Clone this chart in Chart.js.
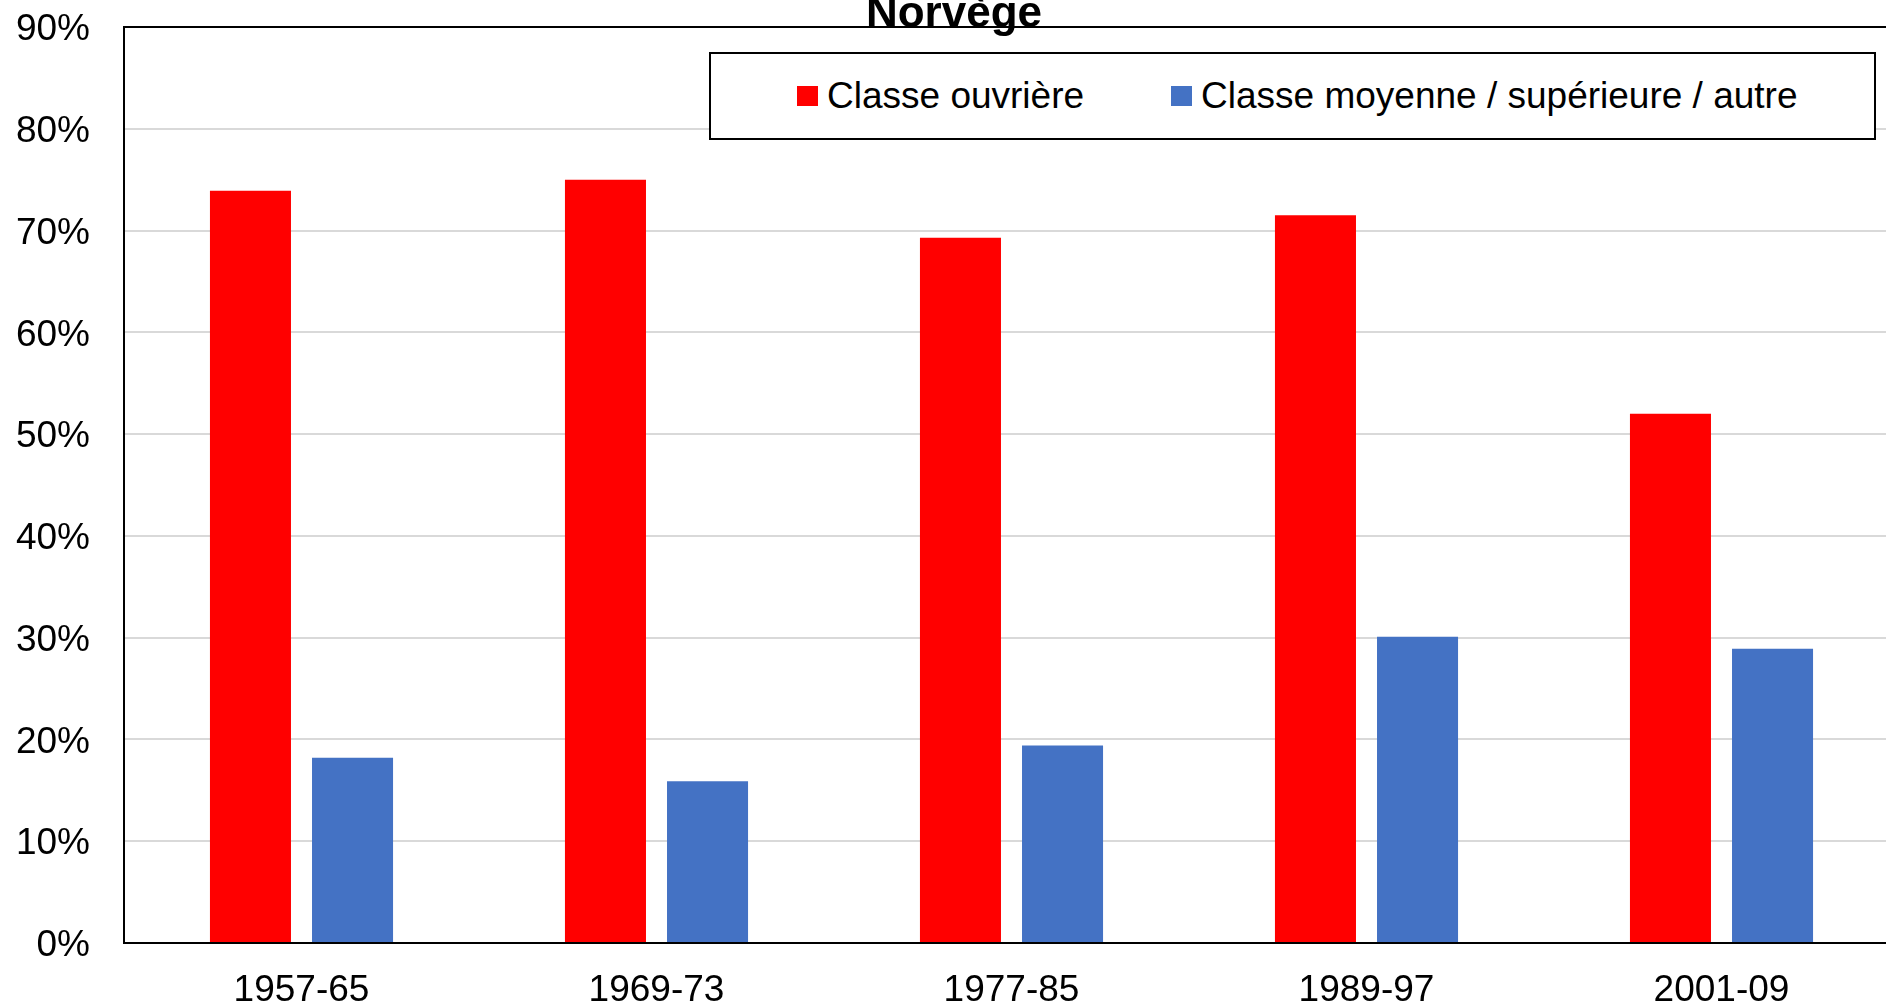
<!DOCTYPE html>
<html>
<head>
<meta charset="utf-8">
<script src="https://cdn.jsdelivr.net/npm/chart.js@4"></script>
<style>
  html, body { margin: 0; padding: 0; background: #fff; overflow: hidden; }
  body { width: 1886px; height: 1003px; position: relative; font-family: "Liberation Sans", Arial, sans-serif; }
  #wrap { position: absolute; left: 0; top: 0; width: 1900px; height: 1003px; }
  #title { position: absolute; left: 954px; top: -10px; transform: translateX(-50%); font-size: 44px; font-weight: bold; line-height: 44px; white-space: nowrap; }
  #legend { position: absolute; left: 709px; top: 52px; width: 1167px; height: 88px; border: 2px solid #000; background: #fff; display: flex; align-items: center; padding-left: 86px; box-sizing: border-box; font-size: 37px; }
  #legend .item { display: flex; align-items: center; margin-right: 87px; white-space: nowrap; }
  #legend .box { width: 21px; height: 20px; margin-right: 9px; }
</style>
</head>
<body>
<div id="wrap"><canvas id="chart"></canvas></div>
<div id="title">Norvège</div>
<div id="legend"></div>
<script>
const periods = ['1957-65', '1969-73', '1977-85', '1989-97', '2001-09'];
const ouvriere = [73.9, 75.0, 69.3, 71.5, 52.0];
const moyenne = [18.2, 15.9, 19.4, 30.1, 28.9];
const yTicks = [0, 10, 20, 30, 40, 50, 60, 70, 80, 90];

const series = [
  { label: 'Classe ouvrière', data: ouvriere, color: '#ff0000' },
  { label: 'Classe moyenne / supérieure / autre', data: moyenne, color: '#4472c4' }
];

const font = { family: '"Liberation Sans", Arial, sans-serif', size: 37 };

document.getElementById('legend').innerHTML = series.map(s => `
  <div class="item"><div class="box" style="background:${s.color}"></div><span>${s.label}</span></div>`).join('');

new Chart(document.getElementById('chart').getContext('2d'), {
  type: 'bar',
  data: {
    labels: periods,
    datasets: series.map(s => ({
      label: s.label,
      data: s.data,
      backgroundColor: s.color,
      borderWidth: 0,
      categoryPercentage: 0.575,
      barPercentage: 0.794
    }))
  },
  options: {
    responsive: true,
    maintainAspectRatio: false,
    animation: false,
    layout: { padding: { top: 0, right: 1, bottom: 0, left: 0 } },
    plugins: {
      legend: { display: false },
      title: { display: false },
      tooltip: { enabled: false }
    },
    scales: {
      x: {
        grid: { display: false, drawTicks: false },
        border: { color: '#000', width: 2 },
        ticks: { color: '#000', font: font, padding: 26, maxRotation: 0 },
        afterFit: scale => { scale.height = 60; }
      },
      y: {
        min: 0,
        max: 90,
        afterBuildTicks: scale => { scale.ticks = yTicks.map(v => ({ value: v })); },
        grid: {
          drawTicks: false,
          lineWidth: 2,
          color: ctx => ctx.tick && ctx.tick.value === 90 ? '#000' : '#d9d9d9'
        },
        border: { color: '#000', width: 2 },
        ticks: { color: '#000', font: font, padding: 34, labelOffset: 3, callback: v => v + '%' },
        afterFit: scale => { scale.width = 124; scale.paddingTop = 27; scale.paddingBottom = 0; }
      }
    }
  }
});
</script>
</body>
</html>
